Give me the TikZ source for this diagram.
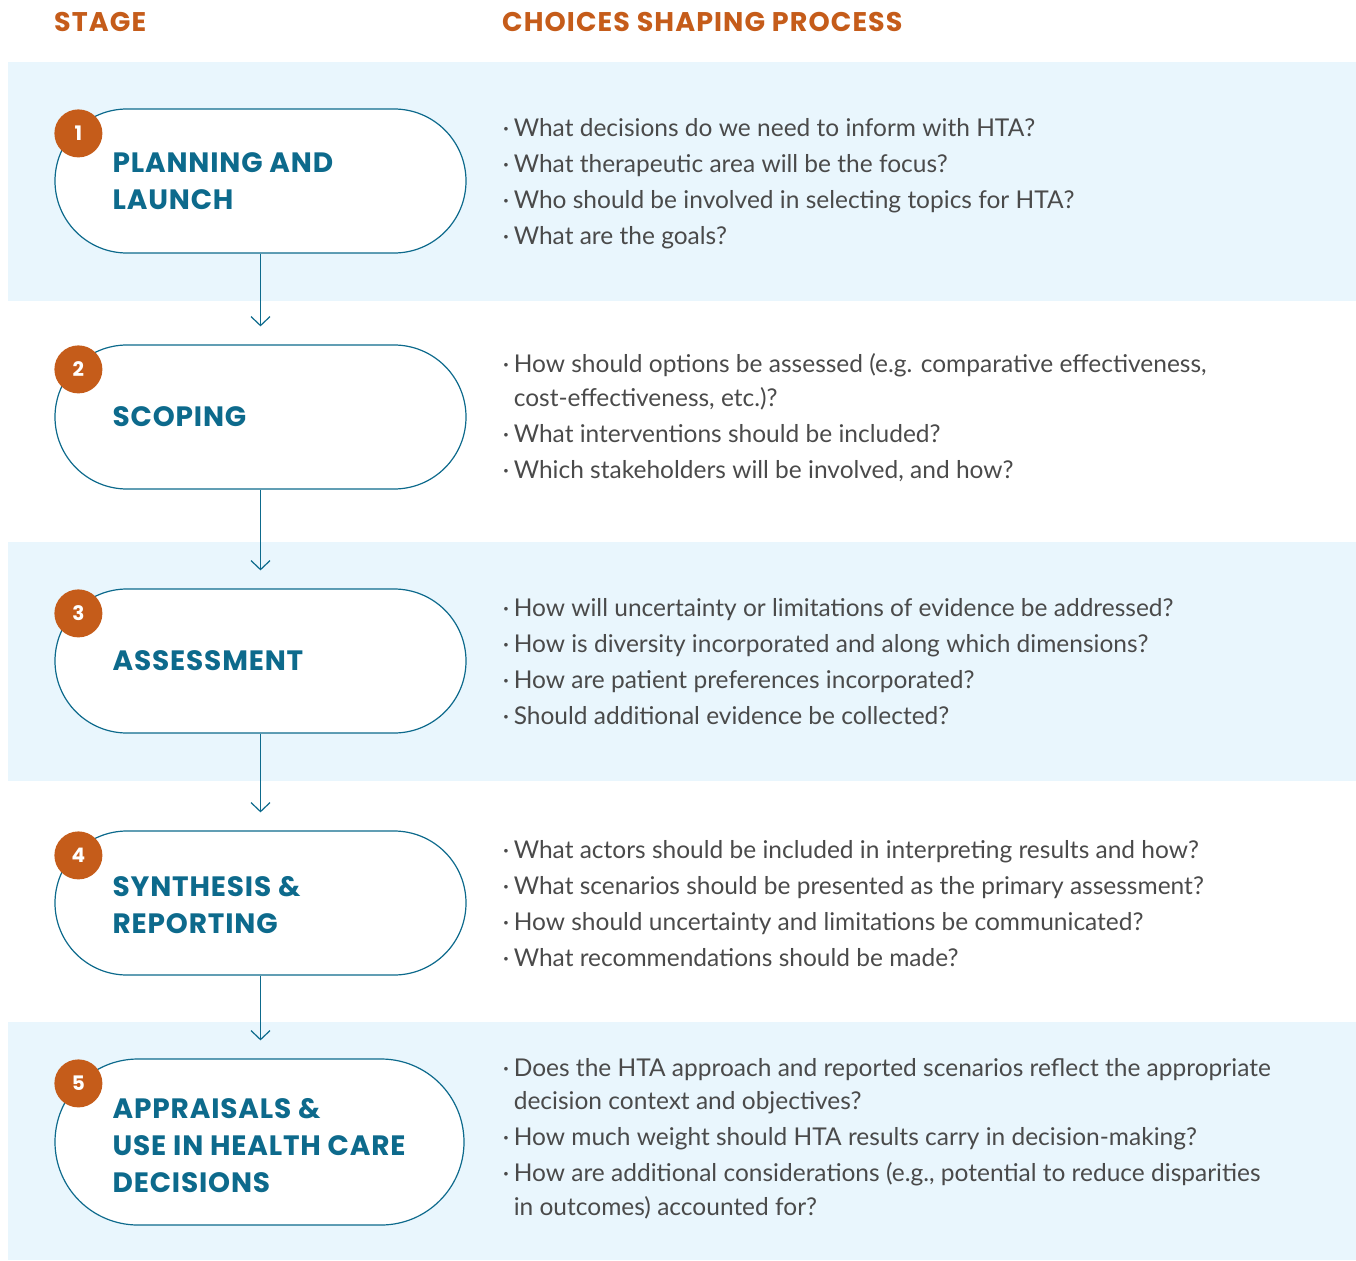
\documentclass[tikz,border=0pt]{standalone}
\usepackage{fontspec}
\setmainfont{Lato}
\newfontfamily\stagefont{Poppins}[LetterSpace=3]
\newfontfamily\headfont{Poppins}[LetterSpace=4]
\usetikzlibrary{positioning,arrows.meta}

\definecolor{hdrorange}{HTML}{C55C1A}
\definecolor{stageblue}{HTML}{0D6A8C}
\definecolor{bandblue}{HTML}{E9F6FD}
\definecolor{bodygray}{HTML}{4A4A4A}

\newcommand{\qdot}{\makebox[11pt][l]{·}}
\newcommand{\qgap}{\hspace*{11pt}}

\tikzset{
  stagepill/.style={draw=stageblue, line width=1.2pt, fill=white, rounded corners=72pt,
    minimum width=411pt, minimum height=144pt},
  stagenum/.style={circle, fill=hdrorange, minimum size=48pt, inner sep=0pt, text=white,
    font=\stagefont\bfseries\fontsize{20}{20}\selectfont},
  stagename/.style={anchor=west, align=left, inner sep=0pt, text=stageblue,
    font=\stagefont\bfseries\fontsize{28}{37}\selectfont},
  choices/.style={anchor=west, align=left, inner sep=0pt, text=bodygray,
    font=\fontsize{24.5}{36}\selectfont},
  header/.style={anchor=west, inner sep=0pt, text=hdrorange,
    font=\headfont\bfseries\fontsize{27}{27}\selectfont},
  flow/.style={draw=stageblue, line width=1.2pt, -{Straight Barb[length=9pt,width=19pt]},
    shorten >=18pt},
}

\begin{document}
\begin{tikzpicture}[x=1pt, y=-1pt]
    \useasboundingbox (0,0) rectangle (1356,1260);

    % shaded bands
    \fill[bandblue] (8,62) rectangle (1356,301);
    \fill[bandblue] (8,542) rectangle (1356,781);
    \fill[bandblue] (8,1022) rectangle (1356,1260);

    % column titles
    \node[header] (hstage) at (54,22) {STAGE};
    \node[header] (hchoice) at (502,22) {CHOICES SHAPING PROCESS};

    % stages
    \node[stagepill] (p1) at (260.5,181) {};
    \node[stagepill] (p2) at (260.5,417) {};
    \node[stagepill] (p3) at (260.5,661) {};
    \node[stagepill] (p4) at (260.5,903) {};
    \node[stagepill, minimum width=409pt, minimum height=166pt, rounded corners=83pt] (p5) at (259.5,1142) {};

    \node[stagename] (t1) at ([xshift=58pt]p1.west) {PLANNING AND\\LAUNCH};
    \node[stagename] (t2) at ([xshift=58pt]p2.west) {SCOPING};
    \node[stagename] (t3) at ([xshift=58pt]p3.west) {ASSESSMENT};
    \node[stagename] (t4) at ([xshift=58pt,yshift=-2pt]p4.west) {SYNTHESIS \&\\REPORTING};
    \node[stagename] (t5) at ([xshift=58pt,yshift=-4pt]p5.west) {APPRAISALS \&\\USE IN HEALTH CARE\\DECISIONS};

    \foreach \i in {1,...,5}
        \node[stagenum] (n\i) at ([xshift=24pt,yshift=-25pt]p\i.north west) {\i};

    % arrows between stages
    \draw[flow] (p1.south) -- (p2.north);
    \draw[flow] (p2.south) -- (p3.north);
    \draw[flow] (p3.south) -- (p4.north);
    \draw[flow] (p4.south) -- (p4.south |- p5.north);

    % questions
    \node[choices, right=36pt of p1, yshift=-3pt] (c1) {%
        \qdot What decisions do we need to inform with HTA?\\
        \qdot What therapeutic area will be the focus?\\
        \qdot Who should be involved in selecting topics for HTA?\\
        \qdot What are the goals?};
    \node[choices, right=36pt of p2, yshift=-1pt] (c2) {%
        \qdot How should options be assessed (e.g. comparative effectiveness,\\[-2pt]
        \qgap cost-effectiveness, etc.)?\\
        \qdot What interventions should be included?\\
        \qdot Which stakeholders will be involved, and how?};
    \node[choices, right=36pt of p3, yshift=-1pt] (c3) {%
        \qdot How will uncertainty or limitations of evidence be addressed?\\
        \qdot How is diversity incorporated and along which dimensions?\\
        \qdot How are patient preferences incorporated?\\
        \qdot Should additional evidence be collected?};
    \node[choices, right=36pt of p4, yshift=-1pt] (c4) {%
        \qdot What actors should be included in interpreting results and how?\\
        \qdot What scenarios should be presented as the primary assessment?\\
        \qdot How should uncertainty and limitations be communicated?\\
        \qdot What recommendations should be made?};
    \node[choices, right=38pt of p5, yshift=3pt] (c5) {%
        \qdot Does the HTA approach and reported scenarios reflect the appropriate\\[-3pt]
        \qgap decision context and objectives?\\
        \qdot How much weight should HTA results carry in decision-making?\\
        \qdot How are additional considerations (e.g., potential to reduce disparities\\[-2pt]
        \qgap in outcomes) accounted for?};
\end{tikzpicture}
\end{document}
